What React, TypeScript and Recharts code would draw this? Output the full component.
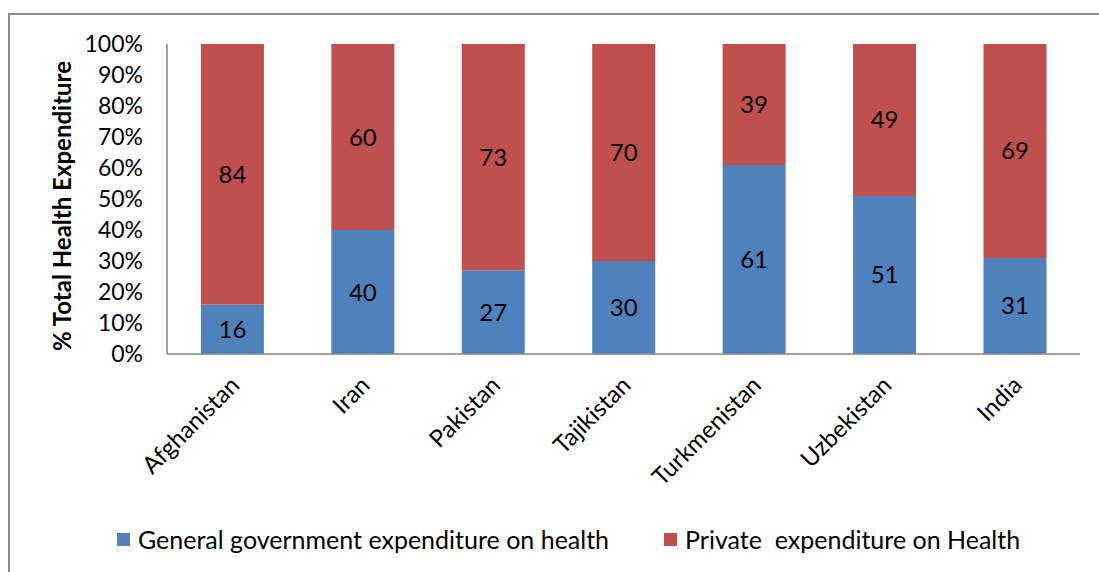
import { BarChart, Bar, XAxis, YAxis, LabelList } from 'recharts'

const countries = ['Afghanistan', 'Iran', 'Pakistan', 'Tajikistan', 'Turkmenistan', 'Uzbekistan', 'India']
const govt = [16, 40, 27, 30, 61, 51, 31]
const privateExp = [84, 60, 73, 70, 39, 49, 69]
const yTicks = [0, 10, 20, 30, 40, 50, 60, 70, 80, 90, 100]

const SERIES = [
  { key: 'govt', name: 'General government expenditure on health', color: '#4F81BD' },
  { key: 'private', name: 'Private  expenditure on Health', color: '#C0504D' },
]

const FONT = 'Lato, "Open Sans", sans-serif'

const data = countries.map((c, i) => ({ country: c, govt: govt[i], private: privateExp[i] }))

const XTick = ({ x, y, payload }: any) => (
  <g transform={`translate(${x + 3},${y + 19})`}>
    <text
      x={0}
      y={0}
      dy={8}
      textAnchor="end"
      transform="rotate(-45)"
      fill="#000"
      fontSize={24}
      fontFamily={FONT}
    >
      {payload.value}
    </text>
  </g>
)

export default function App() {
  return (
    <div style={{ position: 'absolute', left: 0, top: 0, width: 1099, height: 572, background: '#fff', overflow: 'hidden' }}>
      <div
        style={{
          position: 'absolute', left: 8, top: 13, width: 1200, height: 700,
          borderLeft: '2px solid #8a8a8a', borderTop: '2px solid #8a8a8a',
        }}
      />
      <div style={{ position: 'absolute', left: 0, top: 0 }}>
        <BarChart
          width={1099}
          height={572}
          data={data}
          margin={{ top: 44, right: 19, left: 0, bottom: 0 }}
          barCategoryGap="26%"
        >
          <XAxis
            dataKey="country"
            height={218}
            tick={<XTick />}
            tickLine={false}
            axisLine={{ stroke: '#868686', strokeWidth: 1.5 }}
            interval={0}
          />
          <YAxis
            width={167}
            domain={[0, 100]}
            ticks={yTicks}
            interval={0}
            tickFormatter={(v) => `${v}%`}
            tickLine={false}
            axisLine={{ stroke: '#868686', strokeWidth: 1.5 }}
            tick={{ fill: '#000', fontSize: 23, fontFamily: FONT }}
            tickMargin={18}
            label={{
              value: '% Total Health Expenditure',
              angle: -90,
              position: 'insideLeft',
              dx: 57,
              dy: 152,
              style: { fontWeight: 'bold', fontSize: 24, fill: '#000', fontFamily: FONT },
            }}
          />
          {SERIES.map((s) => (
            <Bar key={s.key} dataKey={s.key} name={s.name} stackId="a" fill={s.color} isAnimationActive={false}>
              <LabelList dataKey={s.key} position="center" fill="#000" fontSize={24} fontFamily={FONT} />
            </Bar>
          ))}
        </BarChart>
      </div>
      <div
        style={{
          position: 'absolute', left: 117, top: 524, display: 'flex', alignItems: 'center',
          fontFamily: FONT, fontSize: 25, color: '#000', whiteSpace: 'pre',
        }}
      >
        {SERIES.map((s, i) => (
          <div key={s.key} style={{ display: 'flex', alignItems: 'center', marginRight: i === 0 ? 55 : 0 }}>
            <span style={{ display: 'inline-block', width: 13, height: 13, background: s.color, marginRight: 8 }} />
            <span>{s.name}</span>
          </div>
        ))}
      </div>
    </div>
  )
}
